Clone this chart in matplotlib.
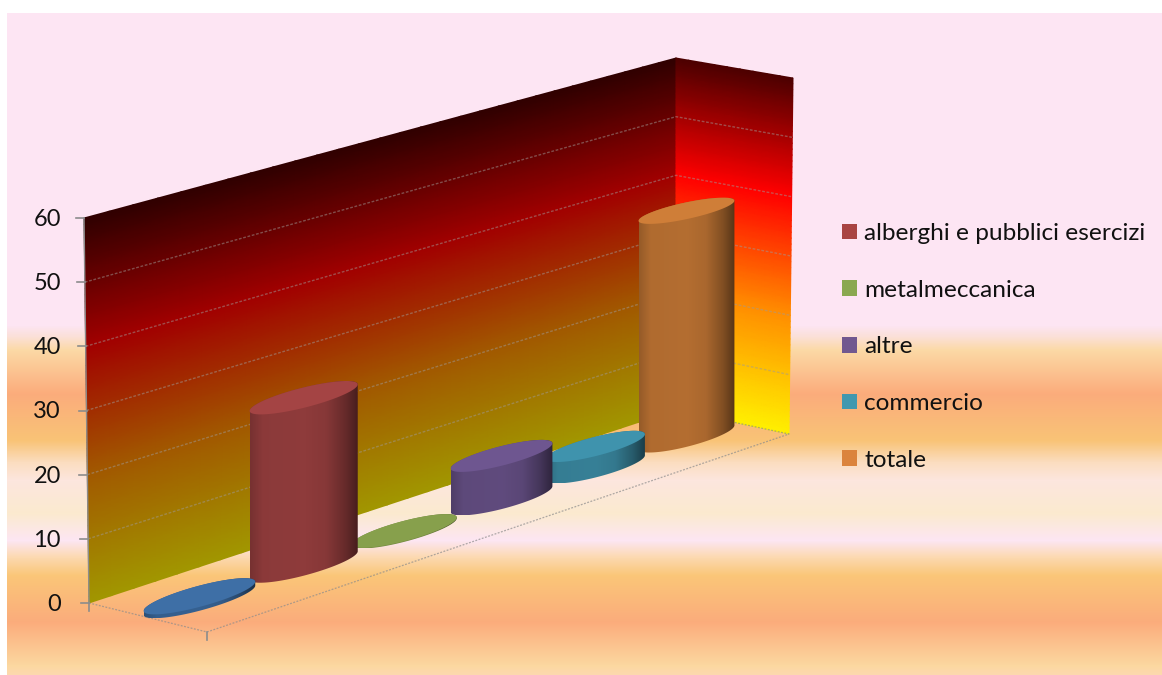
import matplotlib
matplotlib.use('Agg')
import matplotlib.pyplot as plt
from matplotlib.colors import LinearSegmentedColormap, to_rgb
from matplotlib.patches import Patch, Polygon
import numpy as np

plt.rcParams['font.family'] = ['Lato', 'DejaVu Sans']

# values (first cylinder has no legend entry)
values = [0.6, 26.5, 0.1, 7, 3.5, 38]
bar_colors = ['#3E6FA6', '#A44444', '#87A04C', '#6E5690', '#3F93AD', '#CF7E38']
legend_names = ['alberghi e pubblici esercizi', 'metalmeccanica', 'altre', 'commercio', 'totale']
legend_colors = ['#A94442', '#8AA84F', '#71588F', '#4198AF', '#DB843D']
ticks = [0, 10, 20, 30, 40, 50, 60]
vmax = 60

fig = plt.figure(figsize=(11.62, 6.75), dpi=100)
ax = fig.add_axes([0, 0, 1, 1])
ax.set_axis_off()


def homography(c):
    # unit square (u,v) -> picture corners
    src = [(0, 0), (1, 0), (1, 1), (0, 1)]
    A = []
    b = []
    for (u, v), (x, y) in zip(src, c):
        A.append([u, v, 1, 0, 0, 0, -u*x, -v*x])
        A.append([0, 0, 0, u, v, 1, -u*y, -v*y])
        b += [x, y]
    h = np.linalg.solve(np.array(A, float), np.array(b, float))
    return np.append(h, 1).reshape(3, 3)


H_floor = homography([(89, 603), (676, 410), (789, 434), (207, 632)])
H_top = homography([(84, 218), (676, 58), (793, 78), (203, 250)])


def apply(H, u, v):
    w = H[2, 0]*u + H[2, 1]*v + H[2, 2]
    return (H[0, 0]*u + H[0, 1]*v + H[0, 2])/w, (H[1, 0]*u + H[1, 1]*v + H[1, 2])/w


def project(u, v, h):
    # u along categories, v depth (0 back wall), h value
    u = np.asarray(u, float)
    v = np.asarray(v, float)
    f = np.asarray(h, float)/vmax
    x0, y0 = apply(H_floor, u, v)
    x1, y1 = apply(H_top, u, v)
    return x0 + (x1 - x0)*f, y0 + (y1 - y0)*f


# page background
bg_y = [13, 325, 336, 350, 393, 440, 462, 480, 513, 540, 557, 575, 622, 665, 675]
bg_c = ['#FDE5F3', '#FDE5F3', '#FBE0D8', '#FBD9A5', '#FBAC7C', '#F9C376', '#FBDDC0', '#FDE6DE',
        '#FBEACF', '#FDE6F3', '#FCD9B0', '#FAC678', '#FBAC7C', '#FCD8A0', '#FDD8B0']
col_y = np.arange(13, 676)
bg_img = np.array([np.interp(col_y, bg_y, [to_rgb(c)[i] for c in bg_c]) for i in range(3)]).T
ax.imshow(bg_img[:, None, :], extent=(7, 1162, 676, 13), aspect='auto', zorder=0)

# walls
wall_cols = ['#FFF000', '#FF8F00', '#FF0000', '#4C0000']
wall_pos = [0, 0.33, 0.67, 1]
right_cmap = LinearSegmentedColormap.from_list('r', list(zip(wall_pos, wall_cols)))
back_cols = [tuple(0.63*np.array(to_rgb(c))) for c in wall_cols]
back_cols[-1] = '#300000'
back_cmap = LinearSegmentedColormap.from_list('b', list(zip(wall_pos, back_cols)))

hs = np.linspace(0, vmax, 61)
uu, hh = np.meshgrid(np.linspace(0, 1, 30), hs)
x, y = project(uu, np.zeros_like(uu), hh)
ax.pcolormesh(x, y, hh/vmax, cmap=back_cmap, vmin=0, vmax=1, shading='gouraud', zorder=1)
vv, hh = np.meshgrid(np.linspace(0, 1, 10), hs)
x, y = project(np.ones_like(vv), vv, hh)
ax.pcolormesh(x, y, hh/vmax, cmap=right_cmap, vmin=0, vmax=1, shading='gouraud', zorder=1)

# gridlines and floor edges
grid_c = '#A09A96'
for t in ticks[1:-1]:
    x, y = project([0, 1, 1], [0, 0, 1], [t, t, t])
    ax.plot(x, y, color=grid_c, lw=1, alpha=0.5, ls=(0, (2, 1.2)), zorder=2)
x, y = project([0, 0, 1, 1], [0, 1, 1, 0], [0, 0, 0, 0])
ax.plot(x, y, color='#8C8C8C', lw=0.9, alpha=0.7, ls=(0, (1.5, 1.2)), zorder=2)

# value axis
x, y = project([0, 0], [0, 0], [0, vmax])
ax.plot(x, y, color='#8C8C8C', lw=1, zorder=2)
for t in ticks:
    x, y = project(0, 0, t)
    ax.plot([x - 8, x], [y, y], color='#8C8C8C', lw=1.2, zorder=2)
    ax.text(61, float(y) + 1.5, str(t), ha='right', va='center', fontsize=17, color='#111111')
for v in [0, 1]:
    x, y = project(0, v, 0)
    ax.plot([x, x], [y, y + 8], color='#8C8C8C', lw=1.2, zorder=2)

# cylinders, right to left so the nearer ones overlap
n = len(values)
ru = 0.082
rv = 0.168
theta = np.linspace(0, 2*np.pi, 241)[:-1]
shade_pos = [0, 0.12, 0.5, 0.7, 0.88, 1]
shade_val = [0.72, 0.85, 0.87, 0.82, 0.62, 0.42]
for i in range(n - 1, -1, -1):
    u = (i + 0.5)/n - 0.002
    cu = u + ru*np.cos(theta)
    cv = 0.5 + rv*np.sin(theta)
    bx, by = project(cu, cv, np.zeros_like(cu))
    _, ty = project(cu, cv, np.full_like(cu, values[i]))
    tx = bx  # cylinders stand upright in the picture
    zo = 3 + (n - i)*0.1
    left = np.argmin(bx)
    bx2, by2 = np.roll(bx, -left), np.roll(by, -left)
    ty2 = np.roll(ty, -left)
    right = np.argmax(bx2)
    # one arc from the left tip to the right tip is the lower one
    if by2[:right + 1].mean() > by2[right:].mean():
        low = np.column_stack([bx2[:right + 1], by2[:right + 1]])
        up = np.column_stack([bx2[right:], ty2[right:]])
    else:
        low = np.column_stack([bx2[right:][::-1], by2[right:][::-1]])
        up = np.column_stack([bx2[:right + 1][::-1], ty2[:right + 1][::-1]])
    side = Polygon(np.vstack([low, up]), closed=True, fc='none', ec='none', transform=ax.transData)
    ax.add_patch(side)
    base = np.array(to_rgb(bar_colors[i]))
    xs = np.linspace(0, 1, 200)
    grad = np.outer(np.interp(xs, shade_pos, shade_val), base)[None, :, :]
    im = ax.imshow(grad, extent=(bx.min(), bx.max(), max(by.max(), ty.max()), min(by.min(), ty.min())),
                   aspect='auto', zorder=zo, interpolation='bilinear')
    im.set_clip_path(side)
    ax.fill(tx, ty, color=bar_colors[i], lw=0, zorder=zo + 0.01)

ax.set_xlim(0, 1162)
ax.set_ylim(675, 0)

handles = [Patch(fc=c, ec='none') for c in legend_colors]
ax.legend(handles, legend_names, loc='upper left', bbox_to_anchor=(842, 223), bbox_transform=ax.transData,
          frameon=False, fontsize=17.6, handlelength=0.615, handleheight=0.615, handletextpad=0.29,
          labelspacing=1.46, borderpad=0, borderaxespad=0, labelcolor='#111111')

fig.savefig('out.png', dpi=100)
